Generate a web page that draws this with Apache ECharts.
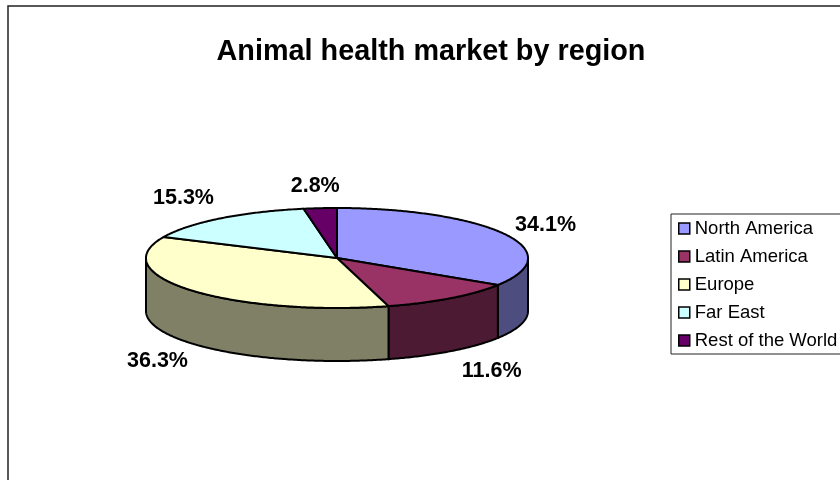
<!DOCTYPE html>
<html>
<head>
<meta charset="utf-8">
<style>html,body{margin:0;padding:0;background:#fff}#container{width:840px;height:480px}</style>
<script src="https://cdn.jsdelivr.net/npm/echarts@6/dist/echarts.min.js"></script>
</head>
<body>
<div id="container"></div>
<script>
var regions = ['North America', 'Latin America', 'Europe', 'Far East', 'Rest of the World'];
var shares = [34.1, 11.6, 36.3, 15.3, 2.8];
var topColors = ['#9999FF', '#993366', '#FFFFCC', '#CCFFFF', '#660066'];
var sideColors = ['#4D4D80', '#4D1A33', '#808066', '#668080', '#330033'];

// ellipse of the top face and height of the wall
var cx = 337, cy = 258, rx = 191, ry = 50, depth = 53;
// label centre relative to the rim point at the slice's middle angle
var labelDx = [41, 41, -34, -37, -5];
var labelDy = [-9, 20, 18, -20, -22];

var total = shares.reduce(function (a, b) { return a + b; }, 0);
var PI = Math.PI;

function startOf(idx) {
    var s = 0;
    for (var i = 0; i < idx; i++) s += shares[i];
    return s;
}
function toAngle(v) {
    return echarts.number.linearMap(v, [0, total], [0, 2 * PI]);
}
// angle runs clockwise from the top of the pie
function rim(a, dy) {
    return [cx + rx * Math.sin(a), cy - ry * Math.cos(a) + (dy || 0)];
}
function arc(a0, a1, dy) {
    var pts = [];
    var n = Math.max(2, Math.ceil(Math.abs(a1 - a0) / 0.01));
    for (var i = 0; i <= n; i++) pts.push(rim(a0 + (a1 - a0) * i / n, dy));
    return pts;
}

function renderSlice(idx) {
    return function (params, api) {
        var a0 = toAngle(startOf(idx));
        var a1 = a0 + toAngle(api.value(0));
        var mid = (a0 + a1) / 2;
        var children = [];

        // wall: only the part on the front half is visible
        var f0 = Math.max(a0, PI / 2), f1 = Math.min(a1, 3 * PI / 2);
        if (f1 > f0) {
            children.push({
                type: 'polygon',
                shape: { points: arc(f0, f1, 0).concat(arc(f1, f0, depth)) },
                style: { fill: sideColors[idx], stroke: '#000', lineWidth: 2, lineJoin: 'round' }
            });
        }
        children.push({
            type: 'polygon',
            shape: { points: [[cx, cy]].concat(arc(a0, a1, 0)) },
            style: { fill: topColors[idx], stroke: '#000', lineWidth: 2, lineJoin: 'round' }
        });

        var front = Math.cos(mid) < 0;
        var p = rim(mid, front ? depth : 0);
        children.push({
            type: 'text',
            z2: 10,
            style: {
                x: p[0] + labelDx[idx],
                y: p[1] + labelDy[idx],
                text: api.value(0).toFixed(1) + '%',
                align: 'center',
                verticalAlign: 'middle',
                fill: '#000',
                font: 'bold 21.5px "Liberation Sans", Arial, sans-serif'
            }
        });
        return { type: 'group', children: children };
    };
}

var dom = document.getElementById('container');
var myChart = echarts.init(dom);

var series = regions.map(function (name, i) {
    return {
        name: name,
        type: 'custom',
        coordinateSystem: 'none',
        silent: true,
        itemStyle: { color: topColors[i] },
        renderItem: renderSlice(i),
        data: [[shares[i]]]
    };
});

var option = {
    backgroundColor: '#FFFFFF',
    animation: false,
    graphic: [{
        type: 'rect',
        z: -1,
        silent: true,
        shape: { x: 8, y: 6, width: 900, height: 600 },
        style: { fill: '#fff', stroke: '#222', lineWidth: 1.5 }
    }],
    title: {
        text: 'Animal health market by region',
        left: 426,
        top: 33,
        textAlign: 'center',
        textStyle: {
            fontFamily: '"Liberation Sans", Arial, sans-serif',
            fontSize: 28.8,
            fontWeight: 'bold',
            color: '#000'
        }
    },
    legend: {
        orient: 'vertical',
        left: 671,
        top: 214,
        padding: [5, 12, 4, 7],
        backgroundColor: '#fff',
        borderColor: '#222',
        borderWidth: 1,
        borderRadius: 0,
        itemGap: 9,
        itemWidth: 11,
        itemHeight: 11,
        icon: 'rect',
        selectedMode: false,
        itemStyle: { borderColor: '#000', borderWidth: 1.5 },
        textStyle: {
            fontFamily: '"Liberation Sans", Arial, sans-serif',
            fontSize: 18.5,
            lineHeight: 19,
            color: '#000',
            padding: [0, 0, 0, 0]
        },
        data: regions
    },
    series: series
};
myChart.setOption(option);
window.onresize = function () { myChart.resize(); };
</script>
</body>
</html>
